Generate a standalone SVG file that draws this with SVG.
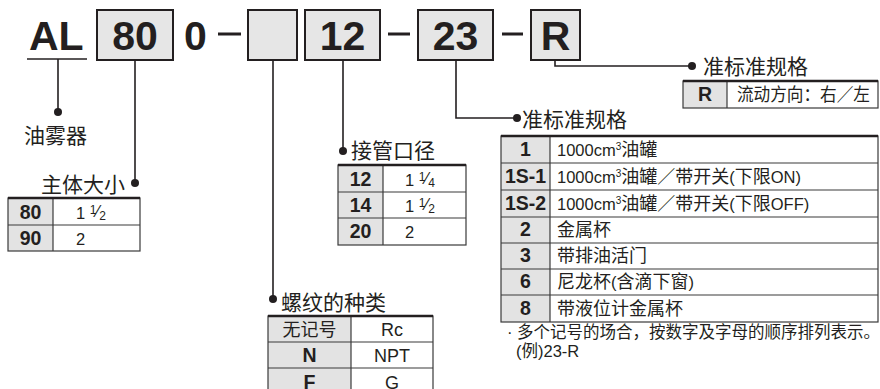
<svg xmlns="http://www.w3.org/2000/svg" width="880" height="389" viewBox="0 0 880 389">
<style>
text{font-family:"Liberation Sans","Noto Sans CJK SC",sans-serif;fill:#231f20}
.big{font-size:41px;font-weight:bold}
.box{fill:#e6e6e6;stroke:#231f20;stroke-width:2}
.conn{stroke:#231f20;stroke-width:1.6;fill:none}
.dot{fill:#231f20}
.head{font-size:21px}
.grey{fill:#e3e3e3}
.grid{stroke:#3a3a3a;stroke-width:1.2;fill:none}
.top{stroke:#231f20;stroke-width:2.5}
.code{font-size:19.5px;font-weight:bold;text-anchor:middle}
.desc{font-size:18px}
.lat{font-size:16.5px}
.note{font-size:16.5px}
.mid{text-anchor:middle}
.dash{stroke:#231f20;stroke-width:3}
</style>
<rect width="880" height="389" fill="#fff"/>

<g id="model-code">
<text class="big" x="29" y="50">AL</text>
<rect class="box" x="97" y="10" width="76" height="50"/>
<text class="big mid" x="135" y="50">80</text>
<text class="big" x="184" y="50">0</text>
<line class="dash" x1="218" y1="34" x2="241" y2="34"/>
<rect class="box" x="248" y="10" width="49" height="50"/>
<rect class="box" x="305" y="10" width="75" height="50"/>
<text class="big mid" x="342.500" y="50">12</text>
<line class="dash" x1="388" y1="34" x2="410" y2="34"/>
<rect class="box" x="418" y="10" width="75" height="50"/>
<text class="big mid" x="455.500" y="50">23</text>
<line class="dash" x1="502" y1="34" x2="523" y2="34"/>
<rect class="box" x="531" y="10" width="49" height="50"/>
<text class="big mid" x="555.500" y="50">R</text>
</g>

<g id="connectors">
<line class="conn" x1="27" y1="59" x2="87" y2="59"/>
<line class="conn" x1="58" y1="59" x2="58" y2="112"/>
<circle class="dot" cx="58" cy="112" r="4"/>
<line class="conn" x1="135" y1="60" x2="135" y2="183"/>
<circle class="dot" cx="135" cy="183" r="4"/>
<line class="conn" x1="273" y1="60" x2="273" y2="299"/>
<circle class="dot" cx="273" cy="299" r="4"/>
<line class="conn" x1="343" y1="60" x2="343" y2="151"/>
<circle class="dot" cx="343" cy="151" r="4"/>
<polyline class="conn" points="456,60 456,118 517,118"/>
<circle class="dot" cx="517" cy="118" r="4"/>
<polyline class="conn" points="555,60 555,66 692,66"/>
<circle class="dot" cx="692" cy="66" r="4"/>
</g>

<g id="node-oil-mist">
<text class="head" x="24" y="143">油雾器</text>
</g>

<g id="node-body-size">
<text class="head" x="125" y="192" text-anchor="end">主体大小</text>
<rect class="grey" x="8" y="198" width="45" height="53"/>
<rect class="grid" x="8" y="198" width="132" height="53"/>
<line class="grid" x1="8" y1="225" x2="140" y2="225"/>
<line class="grid" x1="53" y1="198" x2="53" y2="251"/>
<line class="top" x1="8" y1="198" x2="140" y2="198"/>
<text class="code" x="30.500" y="219">80</text>
<text class="code" x="30.500" y="245">90</text>
<text class="lat" x="76" y="219">1 <tspan font-size="12" dy="-5">1</tspan><tspan dy="3">⁄</tspan><tspan font-size="12" dy="3">2</tspan></text>
<text class="lat" x="76" y="245">2</text>
</g>

<g id="node-port-size">
<text class="head" x="351" y="158">接管口径</text>
<rect class="grey" x="338" y="165" width="45" height="80"/>
<rect class="grid" x="338" y="165" width="128" height="80"/>
<line class="grid" x1="338" y1="192" x2="466" y2="192"/>
<line class="grid" x1="338" y1="218" x2="466" y2="218"/>
<line class="grid" x1="383" y1="165" x2="383" y2="245"/>
<line class="top" x1="338" y1="165" x2="466" y2="165"/>
<text class="code" x="360.500" y="186">12</text>
<text class="code" x="360.500" y="212">14</text>
<text class="code" x="360.500" y="238">20</text>
<text class="lat" x="405" y="186">1 <tspan font-size="12" dy="-5">1</tspan><tspan dy="3">⁄</tspan><tspan font-size="12" dy="3">4</tspan></text>
<text class="lat" x="405" y="212">1 <tspan font-size="12" dy="-5">1</tspan><tspan dy="3">⁄</tspan><tspan font-size="12" dy="3">2</tspan></text>
<text class="lat" x="405" y="238">2</text>
</g>

<g id="node-option-r">
<text class="head" x="703" y="74">准标准规格</text>
<rect class="grey" x="683" y="81" width="44" height="27"/>
<rect class="grid" x="683" y="81" width="195" height="27"/>
<line class="grid" x1="727" y1="81" x2="727" y2="108"/>
<line class="top" x1="683" y1="81" x2="878" y2="81"/>
<text class="code" x="705" y="101">R</text>
<text class="desc" x="737" y="101" textLength="133" lengthAdjust="spacingAndGlyphs">流动方向：右／左</text>
</g>

<g id="node-option-bowl">
<text class="head" x="522" y="127">准标准规格</text>
<rect class="grey" x="501" y="136" width="49" height="186"/>
<rect class="grid" x="501" y="136" width="377" height="186"/>
<line class="grid" x1="501" y1="163" x2="878" y2="163"/>
<line class="grid" x1="501" y1="190" x2="878" y2="190"/>
<line class="grid" x1="501" y1="217" x2="878" y2="217"/>
<line class="grid" x1="501" y1="243" x2="878" y2="243"/>
<line class="grid" x1="501" y1="269" x2="878" y2="269"/>
<line class="grid" x1="501" y1="295" x2="878" y2="295"/>
<line class="grid" x1="550" y1="136" x2="550" y2="322"/>
<line class="top" x1="501" y1="136" x2="878" y2="136"/>
<text class="code" x="525.500" y="156">1</text>
<text class="code" x="525.500" y="183">1S-1</text>
<text class="code" x="525.500" y="210">1S-2</text>
<text class="code" x="525.500" y="236">2</text>
<text class="code" x="525.500" y="262">3</text>
<text class="code" x="525.500" y="288">6</text>
<text class="code" x="525.500" y="315">8</text>
<text class="desc" x="557" y="156"><tspan class="lat">1000cm</tspan><tspan font-size="10" dy="-6">3</tspan><tspan dy="6">油罐</tspan></text>
<text class="desc" x="557" y="183"><tspan class="lat">1000cm</tspan><tspan font-size="10" dy="-6">3</tspan><tspan dy="6">油罐／带开关</tspan><tspan class="lat">(</tspan>下限<tspan class="lat">ON)</tspan></text>
<text class="desc" x="557" y="210"><tspan class="lat">1000cm</tspan><tspan font-size="10" dy="-6">3</tspan><tspan dy="6">油罐／带开关</tspan><tspan class="lat">(</tspan>下限<tspan class="lat">OFF)</tspan></text>
<text class="desc" x="557" y="236">金属杯</text>
<text class="desc" x="557" y="262">带排油活门</text>
<text class="desc" x="557" y="288">尼龙杯<tspan class="lat">(</tspan>含滴下窗<tspan class="lat">)</tspan></text>
<text class="desc" x="557" y="315">带液位计金属杯</text>
<text class="note" x="507" y="338">· 多个记号的场合，按数字及字母的顺序排列表示。</text>
<text class="note" x="516" y="357">(例)23-R</text>
</g>

<g id="node-thread">
<text class="head" x="281" y="310">螺纹的种类</text>
<rect class="grey" x="268" y="316" width="83" height="80"/>
<rect class="grid" x="268" y="316" width="165" height="80"/>
<line class="grid" x1="268" y1="342" x2="433" y2="342"/>
<line class="grid" x1="268" y1="368" x2="433" y2="368"/>
<line class="grid" x1="351" y1="316" x2="351" y2="396"/>
<line class="top" x1="268" y1="316" x2="433" y2="316"/>
<text class="desc mid" x="309.500" y="336">无记号</text>
<text class="code" x="309.500" y="362">N</text>
<text class="code" x="309.500" y="389">F</text>
<text class="desc mid" x="392" y="336">Rc</text>
<text class="desc mid" x="392" y="362">NPT</text>
<text class="desc mid" x="392" y="389">G</text>
</g>
</svg>
